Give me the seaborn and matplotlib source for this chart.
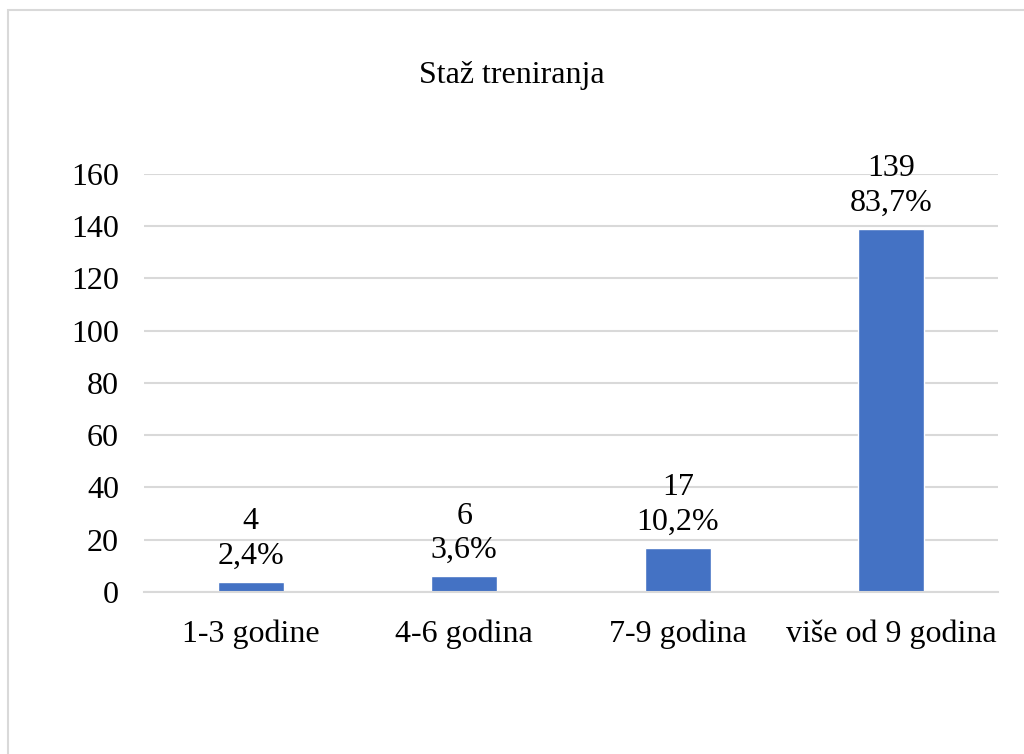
import matplotlib
matplotlib.use('Agg')
import matplotlib.pyplot as plt
import seaborn as sns
import pandas as pd
from matplotlib.patches import Rectangle

# data
categories = ['1-3 godine', '4-6 godina', '7-9 godina', 'više od 9 godina']
counts = [4, 6, 17, 139]
percent_labels = ['2,4%', '3,6%', '10,2%', '83,7%']
y_ticks = [0, 20, 40, 60, 80, 100, 120, 140, 160]
title = 'Staž treniranja'

df = pd.DataFrame({'kategorija': categories, 'broj': counts})

sns.set_theme(style='white')
plt.rcParams['font.family'] = ['Liberation Serif', 'DejaVu Serif']

fig = plt.figure(figsize=(10.24, 7.54), dpi=100)
ax = fig.add_axes([0.1406, 0.2149, 0.834, 0.5544])

sns.barplot(data=df, x='kategorija', y='broj', color='#4472C4',
            width=0.31, saturation=1, ax=ax)

ax.set_ylim(0, 160)
ax.set_xlim(-0.5, 3.5)
ax.set_yticks(y_ticks)
ax.yaxis.grid(True, color='#d9d9d9', linewidth=1.5)
ax.set_axisbelow(True)
for side in ['top', 'right', 'left']:
    ax.spines[side].set_visible(False)
ax.spines['bottom'].set_color('#d9d9d9')
ax.spines['bottom'].set_linewidth(1.5)
ax.tick_params(axis='both', length=0, labelsize=23, colors='black')
ax.tick_params(axis='y', pad=18)
ax.tick_params(axis='x', pad=20)
ax.set_xlabel('')
ax.set_ylabel('')

# value + share labels above each bar
for i, (c, p) in enumerate(zip(counts, percent_labels)):
    ax.annotate(f'{c}\n{p}', xy=(i, c), xytext=(0, 8), textcoords='offset points',
                ha='center', va='bottom', fontsize=23, linespacing=1.25,
                color='black')

fig.text(0.5, 0.9005, title, ha='center', va='center', fontsize=23, color='black')

# chart area border
fig.patches.append(Rectangle((8 / 1024, -0.1), 1.1, 1 - 10 / 754 + 0.1,
                             transform=fig.transFigure, fill=False,
                             edgecolor='#d9d9d9', linewidth=1.5))

fig.savefig('out.png', dpi=100)
